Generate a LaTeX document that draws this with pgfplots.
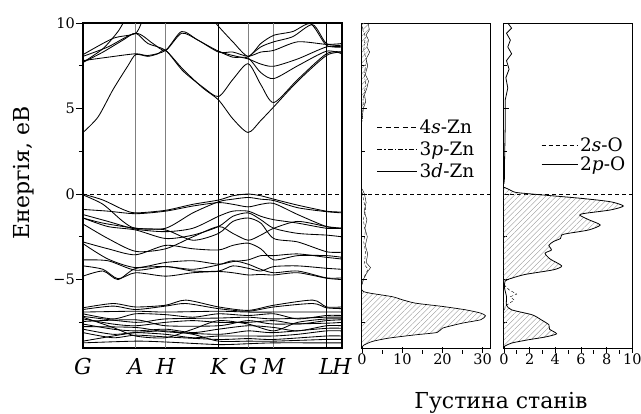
\documentclass[border=0pt]{standalone}
\usepackage{fontspec}
\setmainfont{DejaVu Serif}
\usepackage{pgfplots}
\pgfplotsset{compat=1.18}
\usetikzlibrary{patterns.meta}
\pgfplotsset{
  bnd/.style={black, line width=0.85pt, smooth, tension=0.45},
  hatch/.style={draw=none, pattern={Lines[angle=45,distance=3.8pt,line width=0.4pt]}, pattern color=gray!85},
}
\begin{document}
\begin{tikzpicture}[x=1pt,y=1pt]
\useasboundingbox (0,0) rectangle (641,414);

% ---------------- band structure ----------------
\begin{axis}[
  at={(83pt,66pt)}, anchor=south west,
  scale only axis, width=259pt, height=325pt,
  xmin=0, xmax=259.3, ymin=-9, ymax=10,
  axis line style={line width=1.1pt},
  xtick={0,52.7,82.7,135.7,165.3,191,243.7,259.3},
  xticklabels={G,A,H,K,G,M,L,H},
  x tick style={draw=none},
  xticklabel style={font=\fontsize{22}{22}\selectfont\itshape, inner sep=1pt, yshift=-2pt},
  ytick={-5,0,5,10}, yticklabels={−5,0,5,10},
  minor ytick={-7.5,-2.5,2.5,7.5},
  ytick pos=left, tick align=outside,
  major tick length=7pt, minor tick length=4pt,
  y tick style={black, line width=0.8pt},
  yticklabel style={font=\fontsize{14.5}{14.5}\selectfont, inner sep=1pt},
  clip=true,
]
\addplot[gray, line width=0.7pt] coordinates {(52.7,-9)(52.7,10)};
\addplot[gray, line width=0.7pt] coordinates {(82.7,-9)(82.7,10)};
\addplot[gray, line width=0.7pt] coordinates {(165.3,-9)(165.3,10)};
\addplot[gray, line width=0.7pt] coordinates {(191,-9)(191,10)};
\addplot[black, line width=1.2pt] coordinates {(135.7,-9)(135.7,10)};
\addplot[black, line width=1.2pt] coordinates {(243.7,-9)(243.7,10)};
\addplot[black, line width=0.5pt, dash pattern=on 4pt off 3pt] coordinates {(0,0)(259.3,0)};
% conduction bands
\addplot[bnd] coordinates {(0,3.6)(15,4.5)(30,6.1)(45,7.5)(52.7,8.15)(65,8.05)(75,8.2)(82.7,8.4)(100,7.3)(120,6.2)(135.7,5.5)(150,4.4)(165.3,3.6)(178,4.3)(191,5.1)(215,6.6)(243.7,8.1)(259.3,8.3)};
\addplot[bnd] coordinates {(0,7.7)(20,8.3)(40,9.0)(52.7,9.4)(65,8.8)(82.7,8.4)(100,7.2)(120,6.25)(135.7,5.7)(150,6.7)(165.3,7.62)(178,6.4)(191,5.35)(215,6.7)(243.7,8.2)(259.3,8.3)};
\addplot[bnd] coordinates {(0,7.8)(25,8.0)(52.7,8.2)(65,8.1)(82.7,8.4)(98.7,9.5)(115,9.0)(135.7,8.35)(150,8.1)(165.3,7.9)(178,7.6)(191,7.47)(215,7.9)(243.7,8.6)(259.3,8.6)};
\addplot[bnd] coordinates {(0,8.05)(25,8.6)(52.7,9.4)(70,8.8)(82.7,8.4)(98.7,9.4)(115,9.0)(135.7,8.3)(150,8.3)(165.3,8.05)(178,8.3)(191,8.4)(215,8.9)(243.7,8.75)(259.3,8.8)};
\addplot[bnd] coordinates {(0,8.15)(30,9.1)(52.7,9.4)(60,10.3)};
\addplot[bnd] coordinates {(0,7.7)(20,8.5)(35,9.5)(43,10.3)};
\addplot[bnd] coordinates {(127,10.4)(135.7,9.8)(150,8.9)(165.3,8.05)(178,8.8)(191,9.28)(210,9.5)(228,9.95)(243.7,8.7)(259.3,8.6)};
\addplot[bnd] coordinates {(165.3,8.0)(178,8.6)(191,8.9)(210,9.2)(230,9.9)(243.7,8.8)(259.3,8.7)};
\addplot[bnd] coordinates {(135.7,8.35)(150,8.0)(165.3,7.95)(178,7.1)(191,6.75)(215,7.5)(243.7,8.35)(259.3,8.2)};
% valence bands
\addplot[bnd] coordinates {(0,0)(20,-0.35)(40,-0.9)(52.7,-1.1)(82.7,-0.95)(110,-0.6)(135.7,-0.35)(150,-0.1)(165.3,0)(178,-0.1)(191,-0.3)(215,-0.65)(243.7,-1.0)(259.3,-1.05)};
\addplot[bnd] coordinates {(0,-0.05)(20,-0.6)(40,-1.6)(52.7,-2.0)(82.7,-2.0)(110,-1.1)(135.7,-0.45)(150,-0.3)(165.3,-0.2)(178,-0.3)(191,-0.38)(215,-0.8)(243.7,-1.03)(259.3,-1.1)};
\addplot[bnd] coordinates {(0,-0.9)(25,-1.0)(52.7,-1.15)(82.7,-1.0)(110,-0.7)(135.7,-0.5)(150,-0.6)(165.3,-0.75)(178,-0.6)(191,-0.55)(215,-1.2)(243.7,-1.9)(259.3,-2.0)};
\addplot[bnd] coordinates {(0,-1.2)(25,-1.6)(52.7,-2.05)(82.7,-2.2)(110,-2.0)(135.7,-1.3)(150,-1.0)(165.3,-1.0)(178,-1.3)(191,-1.5)(215,-1.7)(243.7,-2.0)(259.3,-2.0)};
\addplot[bnd] coordinates {(0,-1.4)(25,-1.9)(52.7,-2.1)(82.7,-2.6)(110,-2.4)(135.7,-1.9)(150,-1.3)(165.3,-1.1)(178,-1.5)(191,-2.0)(215,-2.3)(243.7,-2.4)(259.3,-2.5)};
\addplot[bnd] coordinates {(0,-1.75)(25,-2.6)(52.7,-3.35)(82.7,-3.2)(110,-2.5)(135.7,-1.9)(150,-2.3)(165.3,-2.7)(178,-2.4)(191,-2.0)(215,-1.6)(243.7,-1.9)(259.3,-2.0)};
\addplot[bnd] coordinates {(0,-1.4)(20,-1.7)(52.7,-2.0)(82.7,-2.1)(110,-2.7)(135.7,-2.3)(150,-1.6)(165.3,-1.4)(178,-1.7)(191,-2.6)(215,-2.8)(243.7,-3.37)(259.3,-3.4)};
\addplot[bnd] coordinates {(0,-2.8)(25,-3.2)(52.7,-3.55)(82.7,-3.0)(110,-3.2)(135.7,-3.27)(150,-3.0)(165.3,-2.87)(178,-3.2)(191,-3.85)(215,-3.6)(243.7,-3.6)(259.3,-3.7)};
\addplot[bnd] coordinates {(0,-2.9)(25,-3.8)(52.7,-4.3)(82.7,-4.0)(110,-3.9)(135.7,-4.1)(150,-3.95)(165.3,-3.85)(178,-3.6)(191,-3.6)(215,-3.5)(243.7,-3.7)(259.3,-3.8)};
\addplot[bnd] coordinates {(0,-3.85)(25,-3.9)(52.7,-4.45)(82.7,-4.24)(110,-4.5)(135.7,-4.5)(150,-4.2)(165.3,-4.34)(178,-4.5)(191,-4.24)(215,-4.2)(243.7,-4.34)(259.3,-4.4)};
\addplot[bnd] coordinates {(0,-4.2)(20,-4.4)(35,-4.95)(52.7,-4.6)(82.7,-4.8)(110,-4.6)(135.7,-4.53)(150,-4.6)(165.3,-4.73)(178,-4.7)(191,-4.73)(215,-4.6)(243.7,-4.92)(259.3,-5.0)};
\addplot[bnd] coordinates {(0,-4.8)(20,-4.5)(35,-5.0)(52.7,-4.35)(82.7,-4.24)(110,-4.4)(135.7,-4.14)(150,-3.9)(165.3,-4.1)(178,-4.4)(191,-4.6)(215,-4.5)(243.7,-4.9)(259.3,-4.9)};
% d bands
\addplot[bnd] coordinates {(0,-6.65)(30,-6.4)(52.7,-6.6)(82.7,-6.5)(103,-6.2)(135.7,-6.6)(165.3,-6.8)(191,-6.5)(230,-6.2)(243.7,-6.6)(259.3,-6.6)};
\addplot[bnd] coordinates {(0,-6.75)(30,-6.55)(52.7,-6.75)(82.7,-6.55)(103,-6.4)(135.7,-6.7)(165.3,-6.85)(191,-6.6)(230,-6.4)(243.7,-6.65)(259.3,-6.7)};
\addplot[bnd] coordinates {(0,-6.9)(52.7,-6.85)(82.7,-6.9)(135.7,-6.85)(165.3,-6.9)(191,-6.9)(243.7,-6.9)(259.3,-6.9)};
\addplot[bnd] coordinates {(0,-7.0)(30,-7.3)(52.7,-7.0)(82.7,-7.05)(110,-7.2)(135.7,-7.0)(165.3,-7.1)(191,-7.0)(215,-7.3)(243.7,-7.1)(259.3,-7.1)};
\addplot[bnd] coordinates {(0,-7.15)(52.7,-7.5)(82.7,-7.3)(135.7,-7.25)(165.3,-7.2)(191,-7.3)(243.7,-7.2)(259.3,-7.2)};
\addplot[bnd] coordinates {(0,-7.3)(30,-7.6)(52.7,-7.7)(82.7,-7.5)(110,-7.4)(135.7,-7.5)(165.3,-7.5)(191,-7.4)(215,-7.6)(243.7,-7.4)(259.3,-7.35)};
\addplot[bnd] coordinates {(0,-7.45)(52.7,-7.35)(82.7,-7.7)(135.7,-7.7)(165.3,-7.4)(191,-7.6)(243.7,-7.55)(259.3,-7.5)};
\addplot[bnd] coordinates {(0,-7.6)(30,-7.9)(52.7,-8.0)(82.7,-7.9)(110,-8.1)(135.7,-7.9)(165.3,-7.7)(191,-7.8)(215,-8.0)(243.7,-7.7)(259.3,-7.7)};
\addplot[bnd] coordinates {(0,-7.75)(52.7,-7.8)(82.7,-8.05)(135.7,-8.2)(165.3,-8.0)(191,-8.1)(243.7,-7.85)(259.3,-7.85)};
\addplot[bnd] coordinates {(0,-7.9)(30,-8.2)(52.7,-8.1)(82.7,-8.2)(110,-8.4)(135.7,-8.3)(165.3,-8.3)(191,-8.3)(215,-8.2)(243.7,-8.0)(259.3,-8.0)};
\addplot[bnd] coordinates {(0,-8.1)(30,-8.4)(52.7,-8.25)(82.7,-8.35)(135.7,-8.5)(165.3,-8.45)(191,-8.5)(243.7,-8.3)(259.3,-8.3)};
\addplot[bnd] coordinates {(0,-8.6)(30,-8.3)(52.7,-8.1)(82.7,-8.0)(110,-8.2)(135.7,-8.6)(165.3,-8.6)(191,-8.6)(243.7,-8.5)(259.3,-8.5)};
\addplot[bnd] coordinates {(0,-8.7)(52.7,-8.6)(82.7,-8.65)(135.7,-8.8)(165.3,-8.75)(191,-8.7)(243.7,-8.7)(259.3,-8.7)};
\addplot[bnd] coordinates {(0,-7.2)(30,-7.8)(52.7,-8.3)(82.7,-8.4)(110,-7.9)(135.7,-7.4)(165.3,-7.6)(191,-8.0)(215,-7.5)(243.7,-7.3)(259.3,-7.3)};
\end{axis}

% ---------------- Zn DOS ----------------
\begin{axis}[
  at={(361.3pt,66pt)}, anchor=south west,
  scale only axis, width=129.4pt, height=325pt,
  xmin=-0.2, xmax=32, ymin=-9, ymax=10,
  axis line style={line width=0.9pt},
  xtick={0,10,20,30}, xticklabels={0,10,20,30},
  minor xtick={5,15,25},
  ytick={-5,0,5}, yticklabels={}, minor ytick={-7.5,-2.5,2.5,7.5},
  xtick pos=bottom, ytick pos=left, tick align=inside,
  major tick length=6pt, minor tick length=4pt,
  x tick style={black, yshift=-5pt, line width=0.7pt},
  minor x tick style={yshift=-1pt},
  y tick style={black, line width=0.7pt},
  xticklabel style={font=\fontsize{14.5}{14.5}\selectfont, inner sep=1pt, yshift=-5pt},
  legend style={draw=none, fill=none, at={(0.12,0.71)}, anchor=north west,
    font=\fontsize{18.5}{18.5}\selectfont, row sep=3pt, inner sep=0pt, cells={anchor=west}},
  legend image code/.code={\draw[#1] (0pt,0pt) -- (40pt,0pt);},
]
\addlegendimage{black, line width=0.7pt, dash pattern=on 5pt off 3.5pt}
\addlegendentry{4\textit{s}-Zn}
\addlegendimage{black, line width=0.7pt, dash pattern=on 5pt off 2pt on 1.5pt off 2pt}
\addlegendentry{3\textit{p}-Zn}
\addlegendimage{black, line width=0.5pt}
\addlegendentry{3\textit{d}-Zn}
\addplot[black, line width=0.5pt, dash pattern=on 4pt off 3pt, forget plot] coordinates {(-0.2,0)(32,0)};
% 3d main peak
\addplot[hatch, forget plot] coordinates {(0,-9)(0.3,-8.85)(2.5,-8.62)(6.7,-8.42)(13.3,-8.23)(18.7,-8.09)(20,-7.84)(24.9,-7.55)(29.5,-7.35)(30.7,-7.12)(29.5,-6.96)(25.8,-6.77)(20,-6.57)(13.3,-6.38)(10,-6.18)(7.5,-6.0)(2.1,-5.8)(0.3,-5.7)(0,-5.6)} -- cycle;
\addplot[black, line width=0.7pt, smooth, tension=0.4, forget plot] coordinates {(0,-9)(0.3,-8.85)(2.5,-8.62)(6.7,-8.42)(13.3,-8.23)(18.7,-8.09)(20,-7.84)(24.9,-7.55)(29.5,-7.35)(30.7,-7.12)(29.5,-6.96)(25.8,-6.77)(20,-6.57)(13.3,-6.38)(10,-6.18)(7.5,-6.0)(2.1,-5.8)(0.3,-5.7)(0,-5.6)};
% 3d upper part
\addplot[hatch, forget plot] coordinates {(0,10)(1.5,10)(1.8,9.6)(1.0,9.3)(1.6,9.0)(1.2,8.6)(1.9,8.3)(1.0,7.9)(1.4,7.5)(0.8,7.0)(1.6,6.6)(1.2,6.2)(0.6,5.8)(0.9,5.4)(0.3,5.0)(0.1,4.6)(0,4.4)} -- cycle;
\addplot[black, line width=0.4pt, forget plot] coordinates {(1.5,10)(1.8,9.6)(1.0,9.3)(1.6,9.0)(1.2,8.6)(1.9,8.3)(1.0,7.9)(1.4,7.5)(0.8,7.0)(1.6,6.6)(1.2,6.2)(0.6,5.8)(0.9,5.4)(0.3,5.0)(0.1,4.6)(0,4.4)};
% small valence-band contributions
\addplot[black, line width=0.4pt, forget plot] coordinates {(0,0.3)(0.6,0)(1.0,-0.5)(0.5,-1)(1.2,-1.5)(0.7,-2)(1.3,-2.5)(0.8,-3)(1.4,-3.5)(1.0,-4.0)(2.1,-4.3)(1.2,-4.6)(0.3,-5.0)(0,-5.3)};
\addplot[black, line width=0.4pt, dash pattern=on 3pt off 2pt, forget plot] coordinates {(0,0.1)(0.4,-0.4)(0.9,-0.9)(0.3,-1.5)(0.8,-2.2)(0.4,-2.8)(0.9,-3.4)(0.5,-4.1)(1.5,-4.4)(0.6,-4.8)(0,-5.2)};
\addplot[black, line width=0.4pt, dash pattern=on 3pt off 1.5pt on 1pt off 1.5pt, forget plot] coordinates {(0,9.8)(0.8,9.2)(0.4,8.4)(1.1,7.8)(0.5,7.0)(0.9,6.4)(0.3,5.6)(0.2,4.8)(0,4.2)};
\end{axis}

% ---------------- O DOS ----------------
\begin{axis}[
  at={(503.3pt,66pt)}, anchor=south west,
  scale only axis, width=129pt, height=325pt,
  xmin=-0.05, xmax=10, ymin=-9, ymax=10,
  axis line style={line width=0.9pt},
  xtick={0,2,4,6,8,10}, xticklabels={0,2,4,6,8,10},
  minor xtick={1,3,5,7,9},
  ytick={-5,0,5}, yticklabels={}, minor ytick={-7.5,-2.5,2.5,7.5},
  xtick pos=bottom, ytick pos=left, tick align=inside,
  major tick length=6pt, minor tick length=4pt,
  x tick style={black, yshift=-5pt, line width=0.7pt},
  minor x tick style={yshift=-1pt},
  y tick style={black, line width=0.7pt},
  xticklabel style={font=\fontsize{14.5}{14.5}\selectfont, inner sep=1pt, yshift=-5pt},
  legend style={draw=none, fill=none, at={(0.29,0.655)}, anchor=north west,
    font=\fontsize{18.5}{18.5}\selectfont, row sep=0pt, inner sep=0pt, cells={anchor=west}},
  legend image code/.code={\draw[#1] (0pt,0pt) -- (36pt,0pt);},
]
\addlegendimage{black, line width=0.6pt, dash pattern=on 4pt off 3pt}
\addlegendentry{2\textit{s}-O}
\addlegendimage{black, line width=1.3pt}
\addlegendentry{2\textit{p}-O}
\addplot[black, line width=0.5pt, dash pattern=on 4pt off 3pt, forget plot] coordinates {(-0.05,0)(10,0)};
\addplot[hatch, forget plot] coordinates {(0,0.4)(0.3,0.3)(0.9,0.1)(2.2,0)(6,-0.25)(8.3,-0.45)(9.3,-0.7)(8.3,-0.93)(6.3,-1.13)(5.9,-1.23)(6.6,-1.5)(7.5,-1.81)(6.6,-2.1)(5.0,-2.3)(4.5,-2.39)(4.4,-2.6)(3.85,-2.78)(3.5,-3.0)(3.7,-3.27)(3.2,-3.46)(3.6,-3.8)(4.5,-4.2)(3.85,-4.43)(1.65,-4.7)(0.6,-4.92)(0.1,-5.08)(0,-5.2)} -- cycle;
\addplot[hatch, forget plot] coordinates {(0,-6.3)(0.2,-6.5)(0.6,-6.77)(2.2,-7.06)(2.9,-7.35)(3.5,-7.64)(3.55,-7.9)(4.1,-8.17)(3.2,-8.36)(1.9,-8.52)(0.6,-8.71)(0.05,-8.9)(0,-9)} -- cycle;
\addplot[black, line width=0.8pt, smooth, tension=0.4, forget plot] coordinates {(0,0.4)(0.3,0.3)(0.9,0.1)(2.2,0)(6,-0.25)(8.3,-0.45)(9.3,-0.7)(8.3,-0.93)(6.3,-1.13)(5.9,-1.23)(6.6,-1.5)(7.5,-1.81)(6.6,-2.1)(5.0,-2.3)(4.5,-2.39)(4.4,-2.6)(3.85,-2.78)(3.5,-3.0)(3.7,-3.27)(3.2,-3.46)(3.6,-3.8)(4.5,-4.2)(3.85,-4.43)(1.65,-4.7)(0.6,-4.92)(0.1,-5.08)(0.05,-5.5)(0.2,-6.0)(0.2,-6.5)(0.6,-6.77)(2.2,-7.06)(2.9,-7.35)(3.5,-7.64)(3.55,-7.9)(4.1,-8.17)(3.2,-8.36)(1.9,-8.52)(0.6,-8.71)(0.05,-8.9)(0,-9)};
\addplot[black, line width=0.8pt, forget plot] coordinates {(0.3,10)(0.6,9.7)(0.2,9.4)(0.5,9.0)(0.3,8.6)(0.6,8.2)(0.2,7.8)(0.4,7.3)(0.15,6.8)(0.3,6.2)(0.1,5.5)(0.1,4.0)(0.05,2.0)(0.05,1.0)(0,0.6)};
\addplot[black, line width=0.4pt, dash pattern=on 3pt off 2pt, forget plot] coordinates {(0,-5.3)(0.4,-5.6)(1.0,-5.85)(0.5,-6.0)(0.8,-6.2)(0.2,-6.5)(0,-6.8)};
\end{axis}

\node[rotate=90, font=\fontsize{22}{22}\selectfont] at (24,241) {Енергія, еВ};
\node[anchor=base, font=\fontsize{22}{22}\selectfont] at (501,5) {Густина станів};
\end{tikzpicture}
\end{document}
